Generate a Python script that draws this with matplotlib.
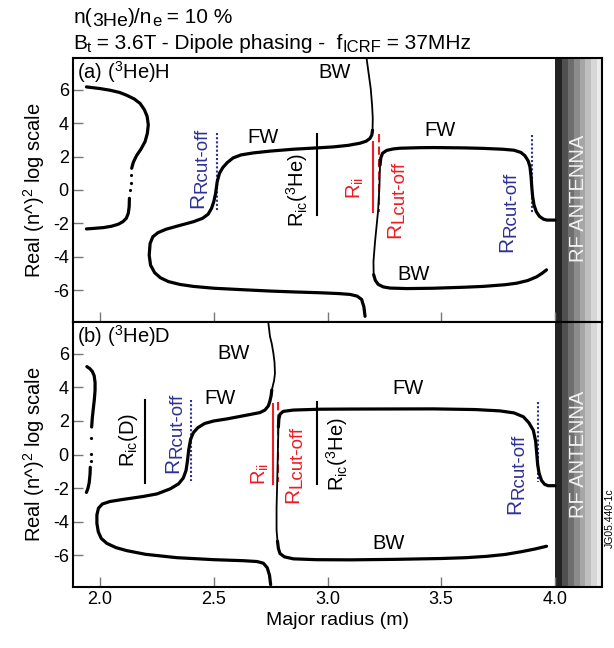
import numpy as np
import matplotlib.pyplot as plt
from matplotlib.transforms import offset_copy

plt.rcParams['font.family'] = ['Liberation Sans', 'DejaVu Sans']
plt.rcParams['mathtext.fontset'] = 'custom'
plt.rcParams['mathtext.rm'] = 'Liberation Sans'
plt.rcParams['mathtext.it'] = 'Liberation Sans'
plt.rcParams['axes.unicode_minus'] = False

# ---- data ----
xticks = [2.0, 2.5, 3.0, 3.5, 4.0]
xticklabels = ['2.0', '2.5', '3.0', '3.5', '4.0']
yticks = [-6, -4, -2, 0, 2, 4, 6]

# panel (a) (3He)H
a_left_up_r = [1.94, 2.0, 2.044, 2.085, 2.117, 2.15, 2.176, 2.195, 2.207, 2.212, 2.208,
               2.198, 2.18, 2.16, 2.146, 2.139]
a_left_up_y = [6.17, 6.07, 5.97, 5.84, 5.67, 5.45, 5.18, 4.8, 4.4, 3.9, 3.4,
               2.9, 2.45, 2.05, 1.65, 1.30]
a_left_dots_r = [2.137, 2.135, 2.133]
a_left_dots_y = [0.9, 0.4, 0.0]
a_left_lo_r = [2.129, 2.128, 2.124, 2.115, 2.1, 2.08, 2.05, 2.015, 1.97, 1.94]
a_left_lo_y = [-0.5, -1.0, -1.4, -1.7, -1.9, -2.05, -2.17, -2.25, -2.3, -2.33]

a_fw1_r = [3.198, 3.195, 3.187, 3.17, 3.143, 3.09, 3.026, 2.967, 2.85, 2.75, 2.674,
           2.62, 2.585, 2.56, 2.54, 2.525, 2.515, 2.508, 2.5, 2.49, 2.475, 2.45, 2.41,
           2.337, 2.29, 2.255, 2.232, 2.22, 2.216, 2.222, 2.24, 2.265, 2.3, 2.35, 2.41,
           2.5, 2.63, 2.75, 2.85, 2.967, 3.05, 3.099, 3.13, 3.15, 3.16, 3.165]
a_fw1_y = [3.58, 3.3, 3.09, 2.92, 2.80, 2.67, 2.58, 2.53, 2.44, 2.33, 2.22,
           2.10, 1.92, 1.65, 1.35, 1.0, 0.5, -0.2, -0.7, -1.1, -1.45, -1.7, -1.9,
           -2.17, -2.35, -2.55, -2.8, -3.2, -3.9, -4.5, -4.95, -5.25, -5.48, -5.65, -5.77,
           -5.88, -5.97, -6.05, -6.1, -6.15, -6.2, -6.25, -6.35, -6.55, -7.0, -7.56]
a_bw_up_r = [3.198, 3.199, 3.196, 3.19, 3.18, 3.172]
a_bw_up_y = [3.58, 4.3, 5.07, 6.07, 7.06, 7.86]

a_fw2_r = [3.231, 3.234, 3.242, 3.26, 3.29, 3.319, 3.4, 3.465, 3.6, 3.685, 3.77, 3.82,
           3.85, 3.868, 3.882, 3.89, 3.895, 3.898, 3.902, 3.908, 3.918, 3.932, 3.95,
           3.965, 4.0]
a_fw2_y = [1.49, 1.9, 2.2, 2.37, 2.46, 2.50, 2.53, 2.54, 2.52, 2.49, 2.44, 2.38,
           2.25, 2.05, 1.75, 1.4, 0.8, 0.2, -0.4, -0.9, -1.3, -1.58, -1.75,
           -1.8, -1.8]
a_mid_r = [3.231, 3.228, 3.222, 3.209, 3.202, 3.203]
a_mid_y = [1.49, 0.1, -1.3, -3.09, -4.28, -5.07]
a_bw_lo_r = [3.203, 3.21, 3.223, 3.245, 3.275, 3.35, 3.465, 3.6, 3.685, 3.78, 3.831,
             3.88, 3.919, 3.945, 3.963]
a_bw_lo_y = [-5.07, -5.4, -5.65, -5.8, -5.87, -5.9, -5.88, -5.82, -5.77, -5.67, -5.58,
             -5.42, -5.2, -4.97, -4.78]

# panel (b) (3He)D
b_left_up_r = [1.942, 1.955, 1.966, 1.974, 1.978, 1.978, 1.975, 1.97, 1.966, 1.963]
b_left_up_y = [5.24, 5.12, 4.95, 4.7, 4.3, 3.84, 3.3, 2.7, 2.2, 1.64]
b_left_dots_r = [1.961, 1.960, 1.958]
b_left_dots_y = [1.0, 0.04, -0.4]
b_left_lo_r = [1.957, 1.956, 1.952, 1.946, 1.94]
b_left_lo_y = [-0.76, -1.16, -1.7, -2.05, -2.26]

b_fw1_r = [2.755, 2.752, 2.747, 2.74, 2.725, 2.703, 2.65, 2.557, 2.5, 2.46, 2.43, 2.41,
           2.398, 2.39, 2.384, 2.378, 2.366, 2.345, 2.308, 2.25, 2.19, 2.1, 2.044, 2.01,
           1.993, 1.986, 1.986, 1.992, 2.005, 2.03, 2.07, 2.117, 2.2, 2.337, 2.5, 2.63,
           2.69, 2.718, 2.735, 2.745, 2.75]
b_fw1_y = [3.84, 3.5, 3.2, 2.9, 2.65, 2.5, 2.36, 2.12, 2.0, 1.85, 1.6, 1.3,
           0.9, 0.3, -0.4, -0.95, -1.4, -1.75, -2.05, -2.35, -2.5, -2.68, -2.8, -2.95,
           -3.2, -3.6, -4.1, -4.6, -5.0, -5.3, -5.55, -5.73, -5.95, -6.15, -6.27, -6.33,
           -6.38, -6.48, -6.75, -7.2, -7.76]
b_bw_up_r = [2.755, 2.765, 2.769, 2.767, 2.762, 2.755, 2.747, 2.74]
b_bw_up_y = [3.84, 4.4, 4.84, 5.5, 6.04, 6.6, 7.04, 7.84]

b_fw2_r = [2.784, 2.786, 2.791, 2.805, 2.85, 2.967, 3.1, 3.465, 3.65, 3.758, 3.82, 3.861,
           3.885, 3.905, 3.915, 3.92, 3.924, 3.93, 3.941, 3.955, 3.97, 4.0]
b_fw2_y = [1.64, 2.1, 2.4, 2.57, 2.65, 2.70, 2.71, 2.72, 2.68, 2.60, 2.48, 2.25,
           1.9, 1.44, 0.8, 0.04, -0.6, -1.1, -1.55, -1.78, -1.86, -1.86]
b_mid_r = [2.784, 2.78, 2.776, 2.776, 2.78]
b_mid_y = [1.64, -1.0, -3.16, -4.5, -5.16]
b_bw_lo_r = [2.78, 2.784, 2.791, 2.81, 2.85, 2.95, 3.1, 3.3, 3.5, 3.61, 3.7, 3.78,
             3.85, 3.91, 3.963]
b_bw_lo_y = [-5.16, -5.6, -5.9, -6.1, -6.22, -6.27, -6.28, -6.25, -6.2, -6.15, -6.07,
             -5.96, -5.8, -5.64, -5.47]

BLUE = '#2e3192'
RED = '#ed1c24'

fig = plt.figure(figsize=(6.14, 6.48), dpi=100)
ax_a = fig.add_axes([0.1189, 0.5031, 0.8616, 0.4074])
ax_b = fig.add_axes([0.1189, 0.0941, 0.8616, 0.4090])

stripes = ['#232323', '#505050', '#6e6e6e', '#8c8c8c', '#a6a6a6', '#bfbfbf', '#d7d7d7', '#ebebeb']
edges = [4.0, 4.033, 4.058, 4.083, 4.108, 4.133, 4.158, 4.183, 4.207]

for ax in (ax_a, ax_b):
    ax.set_xlim(1.881, 4.207)
    ax.set_ylim(-7.9, 7.9)
    ax.set_xticks(xticks)
    ax.set_yticks(yticks)
    ax.tick_params(direction='in', length=7.5, width=1, color='#777777',
                   labelsize=13, pad=3)
    for s in ax.spines.values():
        s.set_linewidth(1.5)
    for i, c in enumerate(stripes):
        ax.axvspan(edges[i], edges[i + 1], color=c, lw=0, zorder=1)
    ax.set_ylabel('Real (n^)$^2$ log scale', fontsize=14.5, labelpad=4)

ax_a.tick_params(labelbottom=False)
ax_b.set_xticklabels(xticklabels)
ax_b.set_xlabel('Major radius (m)', fontsize=14, labelpad=3)

thick = dict(color='black', lw=2.3, solid_capstyle='round', solid_joinstyle='round', zorder=3)
thin = dict(color='black', lw=1.3, zorder=3)
dots = dict(color='black', ls='none', marker='.', ms=2.5, zorder=3)

# panel a curves
ax_a.plot(a_left_up_r, a_left_up_y, **thick)
ax_a.plot(a_left_dots_r, a_left_dots_y, **dots)
ax_a.plot(a_left_lo_r, a_left_lo_y, **thick)
ax_a.plot(a_fw1_r, a_fw1_y, **thick)
ax_a.plot(a_bw_up_r, a_bw_up_y, **thin)
ax_a.plot(a_fw2_r, a_fw2_y, **thick)
ax_a.plot(a_mid_r, a_mid_y, **thin)
ax_a.plot(a_bw_lo_r, a_bw_lo_y, **thick)

# panel b curves
ax_b.plot(b_left_up_r, b_left_up_y, **thick)
ax_b.plot(b_left_dots_r, b_left_dots_y, **dots)
ax_b.plot(b_left_lo_r, b_left_lo_y, **thick)
ax_b.plot(b_fw1_r, b_fw1_y, **thick)
ax_b.plot(b_bw_up_r, b_bw_up_y, **thin)
ax_b.plot(b_fw2_r, b_fw2_y, **thick)
ax_b.plot(b_mid_r, b_mid_y, **thin)
ax_b.plot(b_bw_lo_r, b_bw_lo_y, **thick)

# resonance / cut-off markers, panel a
ax_a.plot([2.513, 2.513], [3.4, -1.3], color=BLUE, ls=(0, (1, 1)), lw=1.5, zorder=2)
ax_a.plot([2.952, 2.952], [3.34, -1.49], color='black', lw=1.5, zorder=2)
ax_a.plot([3.198, 3.198], [2.85, -1.3], color=RED, lw=1.5, zorder=2)
ax_a.plot([3.228, 3.228], [3.38, -1.3], color=RED, ls=(0, (4, 2)), lw=1.5, zorder=2)
ax_a.plot([3.897, 3.897], [3.28, -1.39], color=BLUE, ls=(0, (1, 1)), lw=1.5, zorder=2)

# panel b
ax_b.plot([2.198, 2.198], [3.25, -1.67], color='black', lw=1.5, zorder=2)
ax_b.plot([2.398, 2.398], [3.25, -1.56], color=BLUE, ls=(0, (1, 1)), lw=1.5, zorder=2)
ax_b.plot([2.762, 2.762], [3.04, -1.76], color=RED, lw=1.5, zorder=2)
ax_b.plot([2.784, 2.784], [3.14, -1.66], color=RED, ls=(0, (4, 2)), lw=1.5, zorder=2)
ax_b.plot([2.955, 2.955], [3.15, -1.76], color='black', lw=1.5, zorder=2)
ax_b.plot([3.924, 3.924], [3.15, -1.66], color=BLUE, ls=(0, (1, 1)), lw=1.5, zorder=2)


def cutoff(ax, x, y, sub, color):
    # "R" then a lowered, slightly smaller subscript, reading bottom to top
    ax.annotate('R', (x, y), xytext=(0, 0), textcoords='offset points', rotation=90,
                rotation_mode='anchor', ha='right', va='baseline', fontsize=15, color=color)
    ax.annotate(sub, (x, y), xytext=(2.3, 0), textcoords='offset points', rotation=90,
                rotation_mode='anchor', ha='left', va='baseline', fontsize=13.5, color=color)


fs = 14.5
rot = dict(rotation=90, ha='center', va='center', fontsize=fs)

ax_a.text(1.9, 7.05, '(a) ($^{3}$He)H', fontsize=fs, va='center')
ax_a.text(2.717, 3.16, 'FW', fontsize=fs, ha='center', va='center')
ax_a.text(3.033, 7.06, 'BW', fontsize=fs, ha='center', va='center')
ax_a.text(3.495, 3.58, 'FW', fontsize=fs, ha='center', va='center')
ax_a.text(3.377, -5.07, 'BW', fontsize=fs, ha='center', va='center')
cutoff(ax_a, 2.454, -0.18, 'Rcut-off', BLUE)
ax_a.text(2.864, 0.0, r'R$_{\mathrm{ic}}$($^{3}$He)', color='black', **rot)
ax_a.text(3.121, 0.1, r'R$_{\mathrm{ii}}$', color=RED, **rot)
cutoff(ax_a, 3.319, -1.97, 'Lcut-off', RED)
cutoff(ax_a, 3.811, -2.8, 'Rcut-off', BLUE)
ax_a.text(4.104, -0.5, 'RF ANTENNA', color='#f2f2f2', zorder=4, **rot)

ax_b.text(1.9, 7.05, '(b) ($^{3}$He)D', fontsize=fs, va='center')
ax_b.text(2.586, 6.04, 'BW', fontsize=fs, ha='center', va='center')
ax_b.text(2.527, 3.35, 'FW', fontsize=fs, ha='center', va='center')
ax_b.text(3.355, 3.96, 'FW', fontsize=fs, ha='center', va='center')
ax_b.text(3.267, -5.28, 'BW', fontsize=fs, ha='center', va='center')
ax_b.text(2.125, 0.84, r'R$_{\mathrm{ic}}$(D)', color='black', **rot)
cutoff(ax_b, 2.343, -0.18, 'Rcut-off', BLUE)
ax_b.text(2.703, -1.16, r'R$_{\mathrm{ii}}$', color=RED, **rot)
cutoff(ax_b, 2.870, -1.98, 'Lcut-off', RED)
ax_b.text(3.04, 0.04, r'R$_{\mathrm{ic}}$($^{3}$He)', color='black', **rot)
cutoff(ax_b, 3.846, -2.64, 'Rcut-off', BLUE)
ax_b.text(4.104, 0.0, 'RF ANTENNA', color='#f2f2f2', zorder=4, **rot)


def chain(y, parts):
    # header line built piece by piece so the subscripts keep a readable size
    r = fig.canvas.get_renderer()
    off = 0.0
    for s, size, dy in parts:
        tr = offset_copy(fig.transFigure, fig=fig, x=off, y=dy, units='dots')
        t = fig.text(0.119, y, s, fontsize=size, va='baseline', transform=tr)
        off += t.get_window_extent(r).width


chain(0.9645, [('n(', 15, 0), ('3He', 14, -3), (')/n', 15, 0), ('e', 12, -3),
               (' = 10 %', 15, 0)])
chain(0.9244, [('B', 15, 0), ('t', 11, -3), (' = 3.6T - Dipole phasing -  f', 15, 0),
               ('ICRF', 12, -3), (' = 37MHz', 15, 0)])
fig.text(0.993, 0.2, 'JG05.440-1c', fontsize=7.5, rotation=90, ha='center', va='center')

fig.savefig('out.png', dpi=100)
